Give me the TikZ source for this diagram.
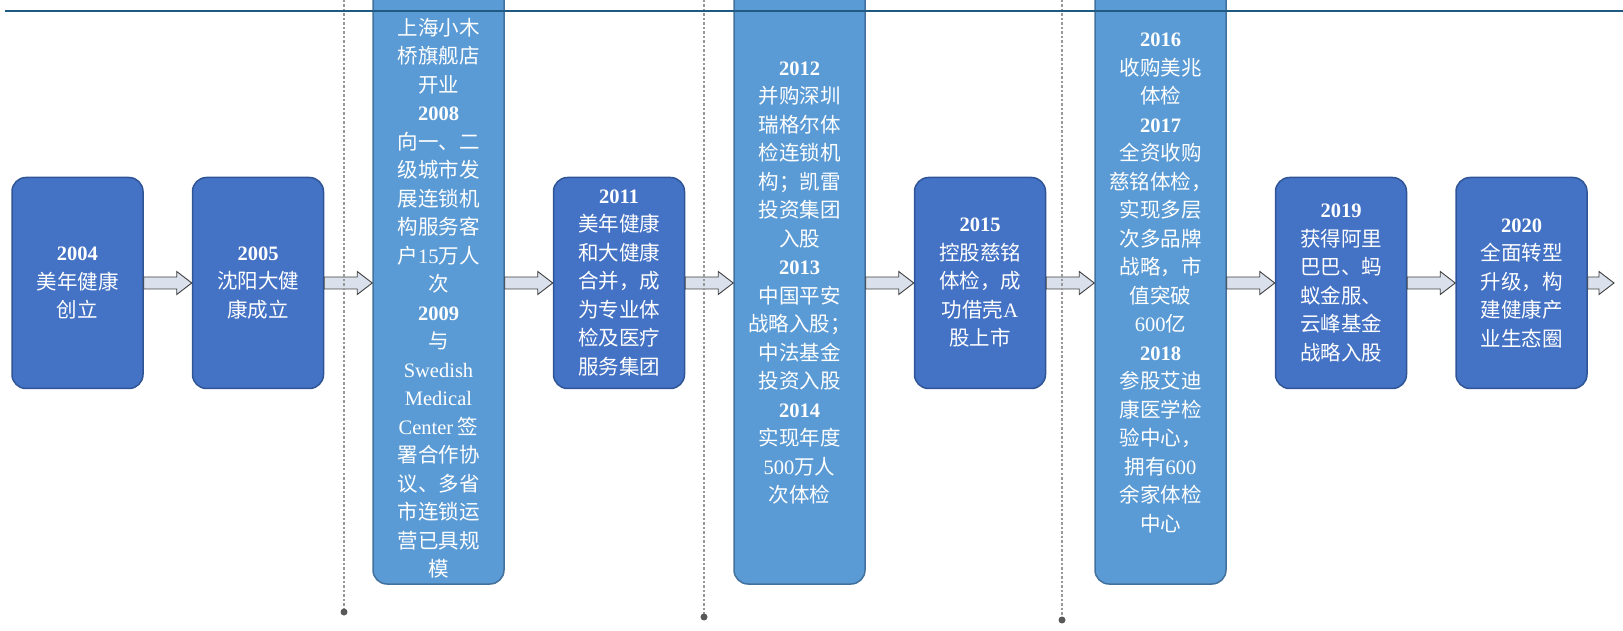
\documentclass[tikz,border=0pt]{standalone}
\usepackage{fontspec}
\setmainfont{Liberation Serif}
\newfontfamily\cjk{Noto Sans CJK SC}
\usetikzlibrary{positioning,calc}
\definecolor{boxdark}{HTML}{4472C4}
\definecolor{boxlight}{HTML}{5B9BD5}
\definecolor{edgedark}{HTML}{2F5597}
\definecolor{edgelight}{HTML}{41719C}
\definecolor{arrowfill}{HTML}{DAE1EC}
\definecolor{rulecol}{HTML}{1F5A85}
\newcommand{\yr}[1]{{\rmfamily\bfseries #1}}
\newcommand{\lat}[1]{{\rmfamily #1}}
\newcommand{\barrow}[2]{%
  \draw[barrow] ($(#1)+(0,6)$) -- ($(#2)+(-15,6)$)
    -- ($(#2)+(-15,11.5)$) -- (#2)
    -- ($(#2)+(-15,-11.5)$) -- ($(#2)+(-15,-6)$)
    -- ($(#1)+(0,-6)$) -- cycle;}

\begin{document}
\begin{tikzpicture}
[x=1pt,y=1pt,node distance=48pt,%
  every node/.style={shape=rectangle,inner sep=0pt,text=white,align=center,
    font=\cjk\fontsize{20.5}{28.5}\selectfont},%
  event/.style={rounded corners=14pt,fill=boxdark,draw=edgedark,line width=1.5pt,
    minimum width=131pt,minimum height=211pt},%
  tall/.style={rounded corners=14pt,fill=boxlight,draw=edgelight,line width=1.5pt,
    minimum width=131pt,minimum height=602pt},%
  barrow/.style={draw=black!75,fill=arrowfill,line width=0.9pt},%
  guide/.style={gray!80,line width=1.3pt,dash pattern=on 2.5pt off 2pt}]
\useasboundingbox (0,0) rectangle (1623,630);
\clip (0,0) rectangle (1623,630);
\node[event] (b2004) at (77.5,347) {\yr{2004}\\美年健康\\创立};
\node[event,right=of b2004] (b2005) {\yr{2005}\\沈阳大健\\康成立};
\node[tall,right=of b2005] (b2008) {\mbox{}\\[19pt]上海小木\\桥旗舰店\\开业\\\yr{2008}\\向一、二\\级城市发\\展连锁机\\构服务客\\户\lat{15}万人\\次\\\yr{2009}\\与\\\lat{Swedish}\\\lat{Medical}\\\lat{Center} 签\\署合作协\\议、多省\\市连锁运\\营已具规\\模};
\node[event,right=of b2008] (b2011) {\yr{2011}\\美年健康\\和大健康\\合并，成\\为专业体\\检及医疗\\服务集团};
\node[tall,right=of b2011] (b2012) {\yr{2012}\\并购深圳\\瑞格尔体\\检连锁机\\构；凯雷\\投资集团\\入股\\\yr{2013}\\中国平安\\战略入股；\\中法基金\\投资入股\\\yr{2014}\\实现年度\\\lat{500}万人\\次体检};
\node[event,right=of b2012] (b2015) {\yr{2015}\\控股慈铭\\体检，成\\功借壳\lat{A}\\股上市};
\node[tall,right=of b2015] (b2016) {\yr{2016}\\收购美兆\\体检\\\yr{2017}\\全资收购\\慈铭体检，\\实现多层\\次多品牌\\战略，市\\值突破\\\lat{600}亿\\\yr{2018}\\参股艾迪\\康医学检\\验中心，\\拥有\lat{600}\\余家体检\\中心};
\node[event,right=of b2016] (b2019) {\yr{2019}\\获得阿里\\巴巴、蚂\\蚁金服、\\云峰基金\\战略入股};
\node[event,right=of b2019] (b2020) {\yr{2020}\\全面转型\\升级，构\\建健康产\\业生态圈};
\coordinate (tip) at (1614,347);
\barrow{b2004.east}{b2005.west}
\barrow{b2005.east}{b2008.west}
\barrow{b2008.east}{b2011.west}
\barrow{b2011.east}{b2012.west}
\barrow{b2012.east}{b2015.west}
\barrow{b2015.east}{b2016.west}
\barrow{b2016.east}{b2019.west}
\barrow{b2019.east}{b2020.west}
\barrow{b2020.east}{tip}
\coordinate (g1top) at (344,630);
\coordinate (g1bot) at (344,18);
\coordinate (g2top) at (704,630);
\coordinate (g2bot) at (704,13);
\coordinate (g3top) at (1062,630);
\coordinate (g3bot) at (1062,10);
\draw[guide] (g1top) -- (g1bot);
\draw[guide] (g2top) -- (g2bot);
\draw[guide] (g3top) -- (g3bot);
\fill[gray!70!black] (g1bot) circle (3.5);
\fill[gray!70!black] (g2bot) circle (3.5);
\fill[gray!70!black] (g3bot) circle (3.5);
\coordinate (ruleL) at (5,619);
\coordinate (ruleR) at (1623,619);
\draw[rulecol,line width=2.8pt] (ruleL) -- (ruleR);
\end{tikzpicture}
\end{document}
